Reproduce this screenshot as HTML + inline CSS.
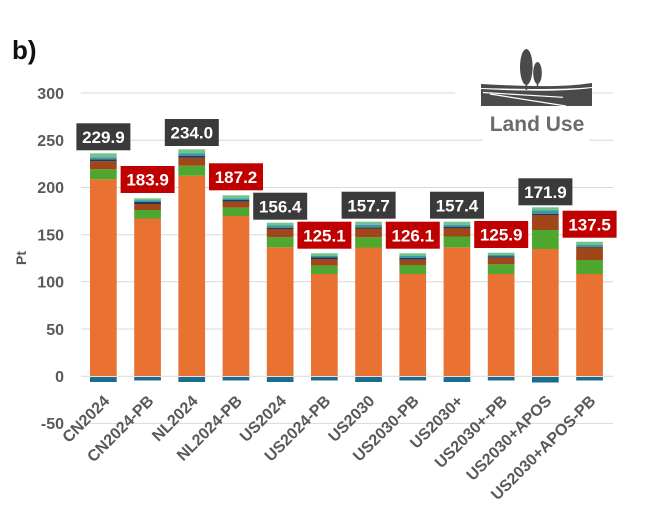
<!DOCTYPE html>
<html>
<head>
<meta charset="utf-8">
<style>
  html,body{margin:0;padding:0;background:#fff;}
  svg{display:block;}
  text{font-family:"Liberation Sans",Arial,sans-serif;}
</style>
</head>
<body>
<svg width="654" height="521" viewBox="0 0 654 521" xmlns="http://www.w3.org/2000/svg">
  <rect width="654" height="521" fill="#fff"/>

  <!-- panel letter -->
  <text x="12" y="59" font-size="26" font-weight="bold" fill="#111">b)</text>

  <!-- gridlines -->
  <g stroke="#d9d9d9" stroke-width="1">
    <line x1="81" x2="613" y1="93" y2="93"/>
    <line x1="81" x2="613" y1="140.2" y2="140.2"/>
    <line x1="81" x2="613" y1="187.5" y2="187.5"/>
    <line x1="81" x2="613" y1="234.7" y2="234.7"/>
    <line x1="81" x2="613" y1="281.8" y2="281.8"/>
    <line x1="81" x2="613" y1="329" y2="329"/>
    <line x1="81" x2="613" y1="376.2" y2="376.2"/>
    <line x1="81" x2="613" y1="423.4" y2="423.4"/>
  </g>
  <!-- white masks behind icon -->
  <rect x="455" y="90" width="27" height="6" fill="#fff"/>
  <rect x="483" y="137" width="106" height="6" fill="#fff"/>

  <!-- y tick labels -->
  <g font-size="16" font-weight="bold" fill="#595959" text-anchor="end">
    <text x="64" y="99">300</text>
    <text x="64" y="146">250</text>
    <text x="64" y="193">200</text>
    <text x="64" y="240.5">150</text>
    <text x="64" y="287.5">100</text>
    <text x="64" y="335">50</text>
    <text x="64" y="382">0</text>
    <text x="64" y="429">-50</text>
  </g>
  <text transform="translate(26,258) rotate(-90)" font-size="14" font-weight="bold" fill="#595959" text-anchor="middle">Pt</text>

  <!-- Land Use icon -->
  <g fill="#4a4a4a">
    <ellipse cx="526.3" cy="67" rx="6.3" ry="18"/>
    <rect x="525.6" y="78" width="1.6" height="12"/>
    <ellipse cx="537.5" cy="73" rx="4.3" ry="11"/>
    <rect x="536.8" y="80" width="1.4" height="9"/>
    <path d="M481,84 C520,86 560,88 592,83 L592,87 C560,90 520,89 481,88 Z"/>
    <path d="M481,89 C520,91 560,92 592,88 L592,106 L481,106 Z"/>
  </g>
  <g stroke="#fff" stroke-width="1.2" fill="none">
    <line x1="483" y1="92.5" x2="563" y2="97.3"/>
    <line x1="490" y1="94" x2="566" y2="106"/>
  </g>
  <text x="537" y="131" font-size="21" font-weight="bold" fill="#6b6b6b" text-anchor="middle">Land Use</text>

  <!-- bars -->
  <g id="bars">
    <!-- bar 1 cx 103.4 -->
    <g transform="translate(90,0)">
      <rect x="0" y="179.3" width="26.7" height="196.7" fill="#E97132"/>
      <rect x="0" y="169.3" width="26.7" height="10" fill="#4EA72E"/>
      <rect x="0" y="161.3" width="26.7" height="8" fill="#A0461A"/>
      <rect x="0" y="159.3" width="26.7" height="2" fill="#1f3a5a"/>
      <rect x="0" y="157.3" width="26.7" height="2" fill="#3f97a3"/>
      <rect x="0" y="153.3" width="26.7" height="4" fill="#72c48c"/>
      <rect x="0" y="377" width="26.7" height="5" fill="#1a6b8c"/>
    </g>
    <!-- bar 2 -->
    <g transform="translate(134.2,0)">
      <rect x="0" y="218.5" width="26.7" height="157.5" fill="#E97132"/>
      <rect x="0" y="210" width="26.7" height="8.5" fill="#4EA72E"/>
      <rect x="0" y="204" width="26.7" height="6" fill="#A0461A"/>
      <rect x="0" y="202" width="26.7" height="2" fill="#1f3a5a"/>
      <rect x="0" y="200.5" width="26.7" height="1.5" fill="#3f97a3"/>
      <rect x="0" y="198.3" width="26.7" height="2.2" fill="#72c48c"/>
      <rect x="0" y="377" width="26.7" height="3.5" fill="#1a6b8c"/>
    </g>
    <!-- bar 3 -->
    <g transform="translate(178.4,0)">
      <rect x="0" y="175.7" width="26.7" height="200.3" fill="#E97132"/>
      <rect x="0" y="165.7" width="26.7" height="10" fill="#4EA72E"/>
      <rect x="0" y="157.8" width="26.7" height="7.9" fill="#A0461A"/>
      <rect x="0" y="156" width="26.7" height="1.8" fill="#1f3a5a"/>
      <rect x="0" y="153.5" width="26.7" height="2.5" fill="#3f97a3"/>
      <rect x="0" y="149.3" width="26.7" height="4.2" fill="#72c48c"/>
      <rect x="0" y="377" width="26.7" height="5" fill="#1a6b8c"/>
    </g>
    <!-- bar 4 -->
    <g transform="translate(222.6,0)">
      <rect x="0" y="216" width="26.7" height="160" fill="#E97132"/>
      <rect x="0" y="207.7" width="26.7" height="8.3" fill="#4EA72E"/>
      <rect x="0" y="201.7" width="26.7" height="6" fill="#A0461A"/>
      <rect x="0" y="200" width="26.7" height="1.7" fill="#1f3a5a"/>
      <rect x="0" y="198.3" width="26.7" height="1.7" fill="#3f97a3"/>
      <rect x="0" y="195.3" width="26.7" height="3" fill="#72c48c"/>
      <rect x="0" y="377" width="26.7" height="3.5" fill="#1a6b8c"/>
    </g>
    <!-- bar 5 -->
    <g transform="translate(266.8,0)">
      <rect x="0" y="247.3" width="26.7" height="128.7" fill="#E97132"/>
      <rect x="0" y="237.3" width="26.7" height="10" fill="#4EA72E"/>
      <rect x="0" y="229" width="26.7" height="8.3" fill="#A0461A"/>
      <rect x="0" y="228" width="26.7" height="1" fill="#1f3a5a"/>
      <rect x="0" y="225.5" width="26.7" height="2.5" fill="#3f97a3"/>
      <rect x="0" y="222.7" width="26.7" height="2.8" fill="#72c48c"/>
      <rect x="0" y="377" width="26.7" height="5" fill="#1a6b8c"/>
    </g>
    <!-- bar 6 -->
    <g transform="translate(311,0)">
      <rect x="0" y="274" width="26.7" height="102" fill="#E97132"/>
      <rect x="0" y="265.7" width="26.7" height="8.3" fill="#4EA72E"/>
      <rect x="0" y="259" width="26.7" height="6.7" fill="#A0461A"/>
      <rect x="0" y="257.5" width="26.7" height="1.5" fill="#1f3a5a"/>
      <rect x="0" y="256" width="26.7" height="1.5" fill="#3f97a3"/>
      <rect x="0" y="253.3" width="26.7" height="2.7" fill="#72c48c"/>
      <rect x="0" y="377" width="26.7" height="3.5" fill="#1a6b8c"/>
    </g>
    <!-- bar 7 -->
    <g transform="translate(355.2,0)">
      <rect x="0" y="247.5" width="26.7" height="128.5" fill="#E97132"/>
      <rect x="0" y="237.3" width="26.7" height="10.2" fill="#4EA72E"/>
      <rect x="0" y="228.5" width="26.7" height="8.8" fill="#A0461A"/>
      <rect x="0" y="227.3" width="26.7" height="1.2" fill="#1f3a5a"/>
      <rect x="0" y="224.7" width="26.7" height="2.6" fill="#3f97a3"/>
      <rect x="0" y="221.7" width="26.7" height="3" fill="#72c48c"/>
      <rect x="0" y="377" width="26.7" height="5" fill="#1a6b8c"/>
    </g>
    <!-- bar 8 -->
    <g transform="translate(399.4,0)">
      <rect x="0" y="274" width="26.7" height="102" fill="#E97132"/>
      <rect x="0" y="265" width="26.7" height="9" fill="#4EA72E"/>
      <rect x="0" y="259.7" width="26.7" height="5.3" fill="#A0461A"/>
      <rect x="0" y="258" width="26.7" height="1.7" fill="#1f3a5a"/>
      <rect x="0" y="256" width="26.7" height="2" fill="#3f97a3"/>
      <rect x="0" y="253.3" width="26.7" height="2.7" fill="#72c48c"/>
      <rect x="0" y="377" width="26.7" height="3.5" fill="#1a6b8c"/>
    </g>
    <!-- bar 9 -->
    <g transform="translate(443.6,0)">
      <rect x="0" y="247.3" width="26.7" height="128.7" fill="#E97132"/>
      <rect x="0" y="236.5" width="26.7" height="10.8" fill="#4EA72E"/>
      <rect x="0" y="228" width="26.7" height="8.5" fill="#A0461A"/>
      <rect x="0" y="227" width="26.7" height="1" fill="#1f3a5a"/>
      <rect x="0" y="224.7" width="26.7" height="2.3" fill="#3f97a3"/>
      <rect x="0" y="221.7" width="26.7" height="3" fill="#72c48c"/>
      <rect x="0" y="377" width="26.7" height="5" fill="#1a6b8c"/>
    </g>
    <!-- bar 10 -->
    <g transform="translate(487.8,0)">
      <rect x="0" y="274" width="26.7" height="102" fill="#E97132"/>
      <rect x="0" y="264.3" width="26.7" height="9.7" fill="#4EA72E"/>
      <rect x="0" y="257.7" width="26.7" height="6.6" fill="#A0461A"/>
      <rect x="0" y="256.5" width="26.7" height="1.2" fill="#1f3a5a"/>
      <rect x="0" y="255" width="26.7" height="1.5" fill="#3f97a3"/>
      <rect x="0" y="252.7" width="26.7" height="2.3" fill="#72c48c"/>
      <rect x="0" y="377" width="26.7" height="3.5" fill="#1a6b8c"/>
    </g>
    <!-- bar 11 -->
    <g transform="translate(532,0)">
      <rect x="0" y="249" width="26.7" height="127" fill="#E97132"/>
      <rect x="0" y="230" width="26.7" height="19" fill="#4EA72E"/>
      <rect x="0" y="215" width="26.7" height="15" fill="#A0461A"/>
      <rect x="0" y="214" width="26.7" height="1" fill="#1f3a5a"/>
      <rect x="0" y="210.5" width="26.7" height="3.5" fill="#3f97a3"/>
      <rect x="0" y="207.3" width="26.7" height="3.2" fill="#72c48c"/>
      <rect x="0" y="377" width="26.7" height="5.5" fill="#1a6b8c"/>
    </g>
    <!-- bar 12 -->
    <g transform="translate(576.2,0)">
      <rect x="0" y="274" width="26.7" height="102" fill="#E97132"/>
      <rect x="0" y="260" width="26.7" height="14" fill="#4EA72E"/>
      <rect x="0" y="247.7" width="26.7" height="12.3" fill="#A0461A"/>
      <rect x="0" y="246.7" width="26.7" height="1" fill="#1f3a5a"/>
      <rect x="0" y="245" width="26.7" height="1.7" fill="#3f97a3"/>
      <rect x="0" y="241.7" width="26.7" height="3.3" fill="#72c48c"/>
      <rect x="0" y="377" width="26.7" height="3.5" fill="#1a6b8c"/>
    </g>
  </g>

  <!-- value labels -->
  <g font-size="17" font-weight="bold" fill="#fff" text-anchor="middle">
    <rect x="76.4" y="123.3" width="54" height="27" fill="#3a3a3a"/>
    <text x="103.4" y="143">229.9</text>
    <rect x="120.6" y="166" width="54" height="27" fill="#C00000"/>
    <text x="147.6" y="185.7">183.9</text>
    <rect x="164.8" y="119" width="54" height="27" fill="#3a3a3a"/>
    <text x="191.8" y="138.7">234.0</text>
    <rect x="209" y="163.3" width="54" height="27" fill="#C00000"/>
    <text x="236" y="183">187.2</text>
    <rect x="253.2" y="192.7" width="54" height="27" fill="#3a3a3a"/>
    <text x="280.2" y="212.4">156.4</text>
    <rect x="297.4" y="221.7" width="54" height="27" fill="#C00000"/>
    <text x="324.4" y="241.4">125.1</text>
    <rect x="341.6" y="191.7" width="54" height="27" fill="#3a3a3a"/>
    <text x="368.6" y="211.4">157.7</text>
    <rect x="385.8" y="221.7" width="54" height="27" fill="#C00000"/>
    <text x="412.8" y="241.4">126.1</text>
    <rect x="430" y="191.7" width="54" height="27" fill="#3a3a3a"/>
    <text x="457" y="211.4">157.4</text>
    <rect x="474.2" y="221" width="54" height="27" fill="#C00000"/>
    <text x="501.2" y="240.7">125.9</text>
    <rect x="518.4" y="178.3" width="54" height="27" fill="#3a3a3a"/>
    <text x="545.4" y="198">171.9</text>
    <rect x="562.6" y="210.7" width="54" height="27" fill="#C00000"/>
    <text x="589.6" y="230.4">137.5</text>
  </g>

  <!-- x category labels -->
  <g font-size="16" font-weight="bold" fill="#595959" text-anchor="end">
    <text transform="translate(110.4,402) rotate(-45)">CN2024</text>
    <text transform="translate(154.6,402) rotate(-45)">CN2024-PB</text>
    <text transform="translate(198.8,402) rotate(-45)">NL2024</text>
    <text transform="translate(243,402) rotate(-45)">NL2024-PB</text>
    <text transform="translate(287.2,402) rotate(-45)">US2024</text>
    <text transform="translate(331.4,402) rotate(-45)">US2024-PB</text>
    <text transform="translate(375.6,402) rotate(-45)">US2030</text>
    <text transform="translate(419.8,402) rotate(-45)">US2030-PB</text>
    <text transform="translate(464,402) rotate(-45)">US2030+</text>
    <text transform="translate(508.2,402) rotate(-45)">US2030+-PB</text>
    <text transform="translate(552.4,402) rotate(-45)">US2030+APOS</text>
    <text transform="translate(596.6,402) rotate(-45)">US2030+APOS-PB</text>
  </g>
</svg>
</body>
</html>
